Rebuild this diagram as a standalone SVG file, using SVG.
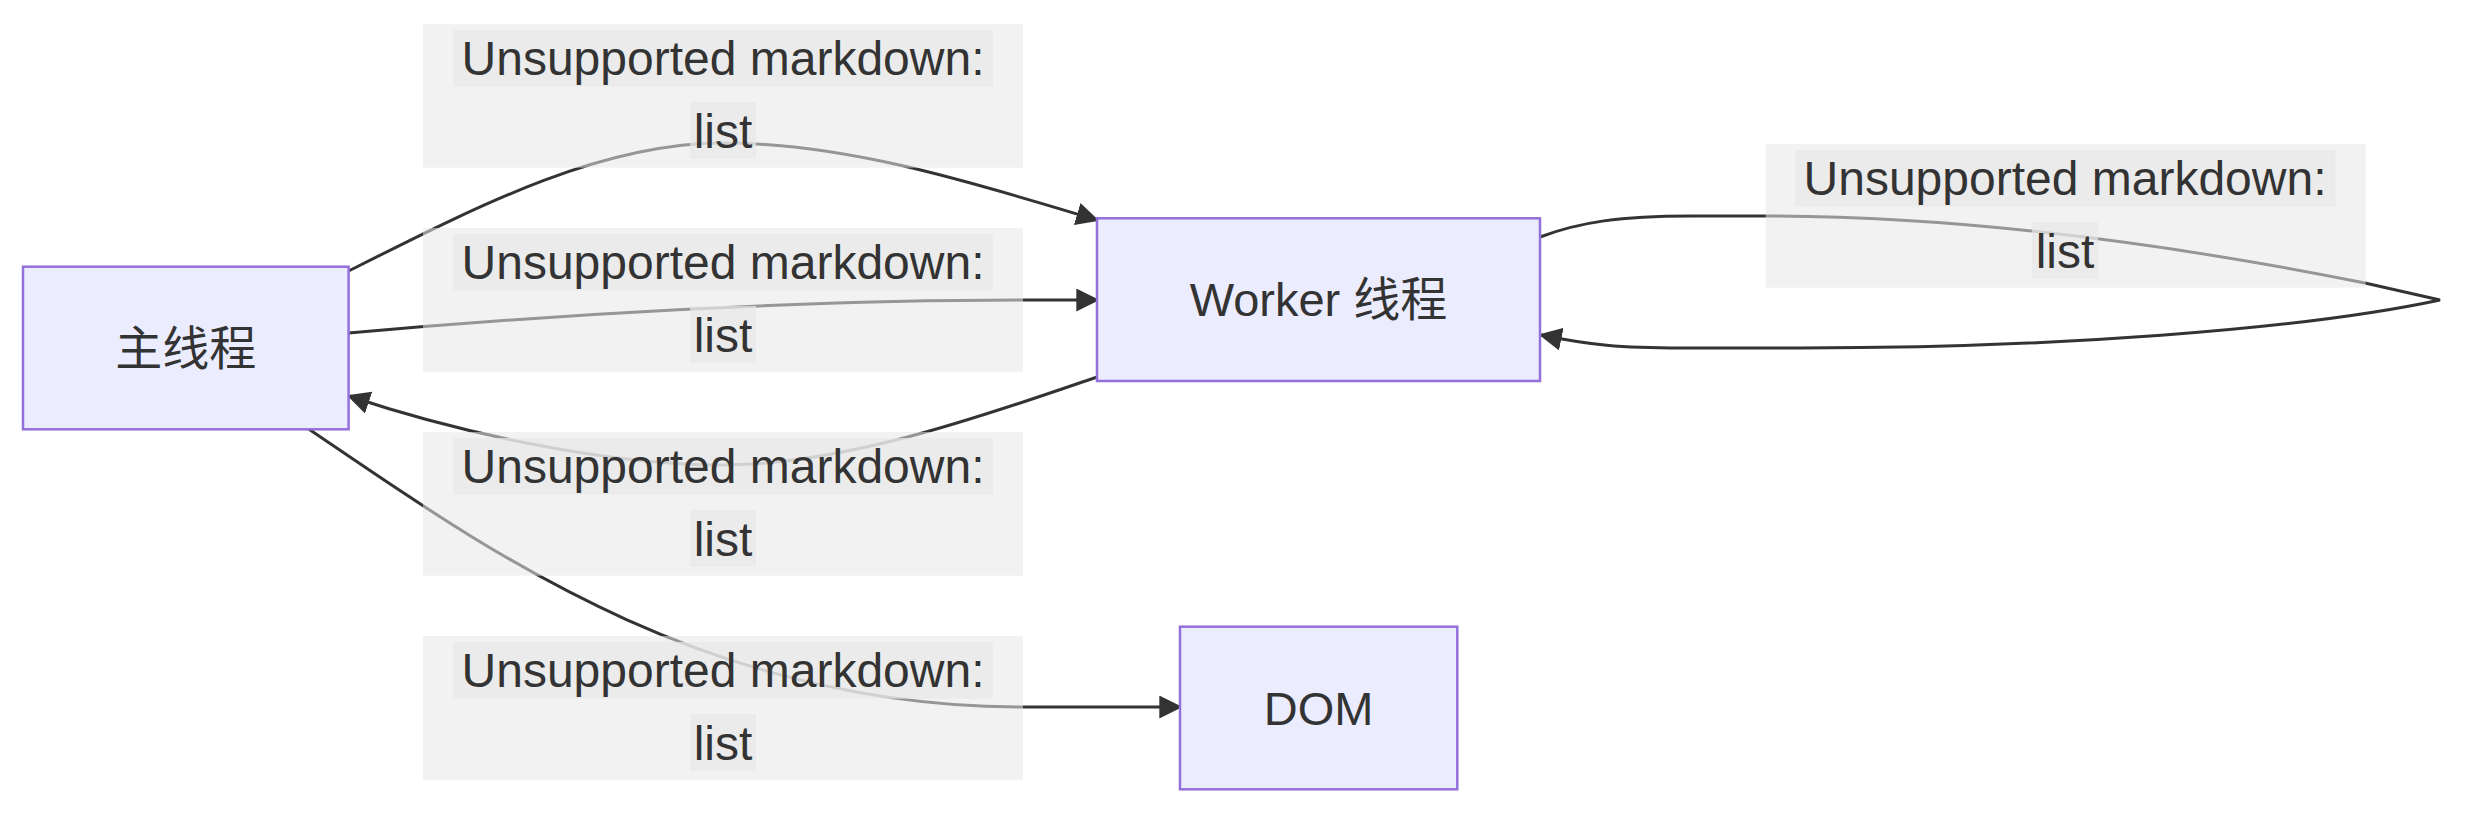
<svg xmlns="http://www.w3.org/2000/svg" width="2465" height="813" viewBox="0 0 2465 813">
<style>
.node rect{fill:#ECECFF;stroke:#9370DB;stroke-width:2.5}
.node text{font-family:"Liberation Sans","Noto Sans CJK SC",sans-serif;font-size:47px;fill:#333;text-anchor:middle;dominant-baseline:central}
.edge{fill:none;stroke:#333;stroke-width:3}
.lbox{fill:#e8e8e8;fill-opacity:0.55}
.lbg{fill:#e8e8e8;fill-opacity:0.7}
.ltext{font-family:"Liberation Sans",sans-serif;font-size:48px;fill:#333;text-anchor:middle}
</style>
<defs>
<marker id="arrow" viewBox="0 0 10 10" refX="9" refY="5" markerUnits="userSpaceOnUse" markerWidth="23" markerHeight="23" orient="auto">
<path d="M0,0 L10,5 L0,10 z" fill="#333"/>
</marker>
</defs>
<rect width="2465" height="813" fill="#fff"/>
<g id="connectors">
<path class="edge" marker-end="url(#arrow)" d="M348.6,271 C480,205 600,143 723,143 C850,143 980,185 1097,220"/>
<path class="edge" marker-end="url(#arrow)" d="M348.6,333 C550,315 800,300 1023,300 L1097,300"/>
<path class="edge" marker-end="url(#arrow)" d="M1097,377 C1000,410 850,465 723,465 C600,465 450,430 349,396"/>
<path class="edge" marker-end="url(#arrow)" d="M308.7,429 C480,545 700,707 1023,707 L1180,707"/>
<path class="edge" marker-end="url(#arrow)" d="M1540,237 C1580,222 1620,216 1691,216 L1765,216 C1950,216 2150,240 2365,283 L2440,300 C2300,330 2050,348 1800,348 L1682,348 C1620,348 1590,345 1541,335"/>
</g>
<g id="label1">
<rect class="lbox" x="423" y="24" width="600" height="143.7"/>
<rect class="lbg" x="453" y="30" width="540" height="56.7"/>
<rect class="lbg" x="690" y="102" width="66" height="56.7"/>
<text class="ltext" x="723" y="75">Unsupported markdown:</text>
<text class="ltext" x="723" y="148">list</text>
</g>
<g id="label2">
<rect class="lbox" x="423" y="228" width="600" height="143.7"/>
<rect class="lbg" x="453" y="234" width="540" height="56.7"/>
<rect class="lbg" x="690" y="306" width="66" height="56.7"/>
<text class="ltext" x="723" y="279">Unsupported markdown:</text>
<text class="ltext" x="723" y="352">list</text>
</g>
<g id="label3">
<rect class="lbox" x="423" y="432" width="600" height="143.7"/>
<rect class="lbg" x="453" y="438" width="540" height="56.7"/>
<rect class="lbg" x="690" y="510" width="66" height="56.7"/>
<text class="ltext" x="723" y="483">Unsupported markdown:</text>
<text class="ltext" x="723" y="556">list</text>
</g>
<g id="label4">
<rect class="lbox" x="423" y="636" width="600" height="143.7"/>
<rect class="lbg" x="453" y="642" width="540" height="56.7"/>
<rect class="lbg" x="690" y="714" width="66" height="56.7"/>
<text class="ltext" x="723" y="687">Unsupported markdown:</text>
<text class="ltext" x="723" y="760">list</text>
</g>
<g id="label5">
<rect class="lbox" x="1765.7" y="144" width="600" height="143.7"/>
<rect class="lbg" x="1795.5" y="150" width="540" height="56.7"/>
<rect class="lbg" x="2032" y="222" width="66" height="56.7"/>
<text class="ltext" x="2065" y="195">Unsupported markdown:</text>
<text class="ltext" x="2065" y="268">list</text>
</g>
<g id="node-main" class="node">
<rect x="23" y="266.7" width="325.6" height="162.6"/>
<text x="185.8" y="348">主线程</text>
</g>
<g id="node-worker" class="node">
<rect x="1097" y="218.3" width="443" height="162.7"/>
<text x="1318.5" y="299.7">Worker 线程</text>
</g>
<g id="node-dom" class="node">
<rect x="1180" y="626.7" width="277.3" height="162.6"/>
<text x="1318.6" y="708">DOM</text>
</g>
</svg>
